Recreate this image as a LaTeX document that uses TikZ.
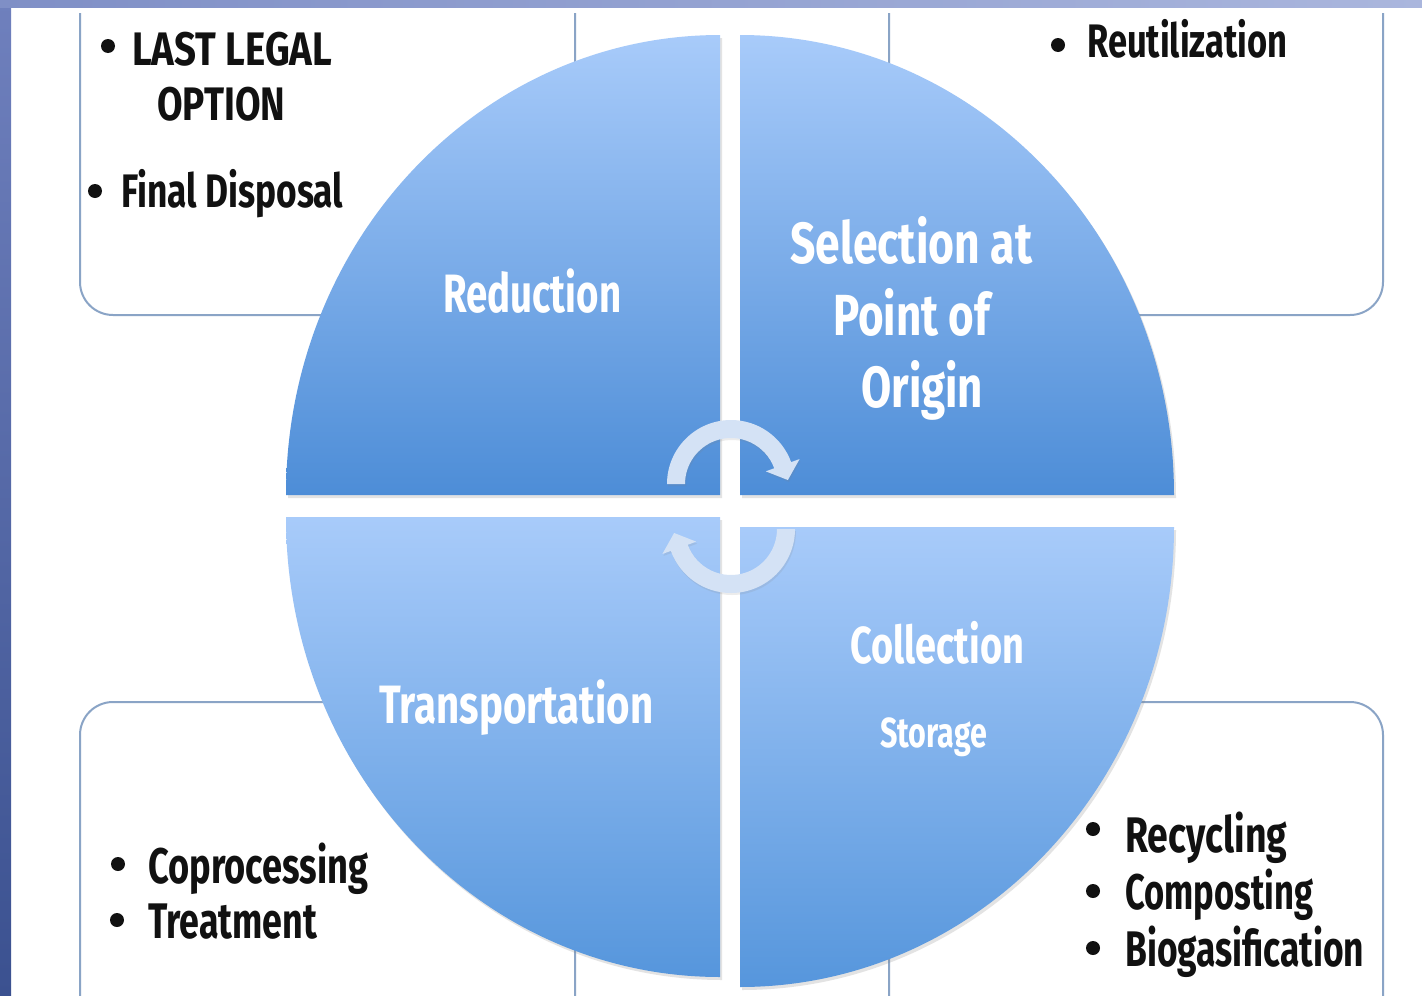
\documentclass[tikz,border=0pt]{standalone}
\usepackage{fontspec}
\usepackage{graphicx}
\usetikzlibrary{shadows}
\newfontfamily\agency{Fira Sans}
\definecolor{lstripTop}{HTML}{6F80BD}
\definecolor{lstripBot}{HTML}{3B5190}
\definecolor{tstripL}{HTML}{7F8FC6}
\definecolor{tstripR}{HTML}{AAB6DD}
\definecolor{boxc}{HTML}{8AA4C6}
\definecolor{arrowc}{HTML}{D4E2F5}
\definecolor{secTop}{HTML}{A8CBFA}
\definecolor{secBot}{HTML}{4D8DD7}
\definecolor{secBotB}{HTML}{5696DC}
\definecolor{ink}{HTML}{111111}
\newsavebox\fitbox
% #1 font size, #2 target width, #3 text
\newcommand\fitw[3]{\sbox\fitbox{\fontsize{#1}{#1}\selectfont #3}%
  \pgfmathsetmacro\fitratio{#2/\the\wd\fitbox}%
  \scalebox{\fitratio}[1]{\usebox\fitbox}}
\tikzset{
  blk/.style={font=\agency\bfseries, text=ink, inner sep=0pt, anchor=base west},
  wht/.style={font=\agency\bfseries, text=white, inner sep=0pt, anchor=base west},
  sectorA/.style={top color=secTop, bottom color=secBot, draw=none,
    drop shadow={opacity=0.22, shadow xshift=2pt, shadow yshift=-3pt}},
  sectorB/.style={top color=secTop, bottom color=secBotB, draw=none,
    drop shadow={opacity=0.22, shadow xshift=2pt, shadow yshift=-3pt}},
  boxline/.style={draw=boxc, line width=2pt, rounded corners=33pt},
  cyc/.style={fill=arrowc, draw=none, drop shadow={opacity=0.15, shadow xshift=1pt, shadow yshift=-2pt}},
  dot/.style={circle, fill=ink, inner sep=0pt, minimum size=14pt}
}
\begin{document}
\begin{tikzpicture}[x=1pt,y=-1pt]
\useasboundingbox (0,0) rectangle (1422,996);
\fill[white] (0,0) rectangle (1422,996);
% side and top strips
\shade[top color=lstripTop, bottom color=lstripBot] (0,0) rectangle (11,996);
\shade[left color=tstripL, right color=tstripR] (0,0) rectangle (1422,7);
% corner boxes (open towards the picture edge)
\draw[boxline] (80,13) -- (80,315) -- (575,315) -- (575,13);
\draw[boxline] (889,13) -- (889,315) -- (1383,315) -- (1383,13);
\draw[boxline] (80,996) -- (80,702) -- (575,702) -- (575,996);
\draw[boxline] (889,996) -- (889,702) -- (1383,702) -- (1383,996);
% pie sectors
\path[sectorA] (720,495) -- (286,495) arc[start angle=180, end angle=270, x radius=434, y radius=460] -- cycle;
\path[sectorA] (740,495) -- (740,35) arc[start angle=270, end angle=360, x radius=434, y radius=460] -- cycle;
\path[sectorB] (720,517) -- (286,517) arc[start angle=180, end angle=90, x radius=434, y radius=460] -- cycle;
\path[sectorB] (740,527) -- (1174,527) arc[start angle=0, end angle=90, x radius=434, y radius=460] -- cycle;
% cycle arrows
\begin{scope}[shift={(731,484)}]
\path[cyc] (180:64) arc[start angle=180, end angle=340, radius=64] -- (340:73) -- (-4:57) -- (340:37) -- (340:46) arc[start angle=340, end angle=180, radius=46] -- cycle;
\end{scope}
\begin{scope}[shift={(731,529)}]
\path[cyc] (0:64) arc[start angle=0, end angle=160, radius=64] -- (160:73) -- (176:57) -- (160:37) -- (160:46) arc[start angle=160, end angle=0, radius=46] -- cycle;
\end{scope}
% sector labels
\node[wht] (red) at (443,312) {\fitw{54pt}{178}{Reduction}};
\node[wht] (sel1) at (790,263) {\fitw{58pt}{242}{Selection at}};
\node[wht] (sel2) at (833,335) {\fitw{58pt}{157}{Point of}};
\node[wht] (sel3) at (861,407) {\fitw{58pt}{122}{Origin}};
\node[wht] (tra) at (379,723) {\fitw{54pt}{274}{Transportation}};
\node[wht] (col) at (850,663) {\fitw{52pt}{174}{Collection}};
\node[wht] (sto) at (880,747) {\fitw{42pt}{107}{Storage}};
% bullets and list texts
\node[dot] (d1) at (108,46) {};
\node[blk] (t1a) at (132,65) {\fitw{47pt}{200}{LAST LEGAL}};
\node[blk] (t1b) at (157,120) {\fitw{47pt}{128}{OPTION}};
\node[dot] (d2) at (95,191) {};
\node[blk] (t2) at (121,207) {\fitw{47pt}{222}{Final Disposal}};
\node[dot] (d3) at (1058,45) {};
\node[blk] (t3) at (1087,57) {\fitw{47pt}{200}{Reutilization}};
\node[dot] (d4) at (118,864) {};
\node[blk] (t4) at (148,883) {\fitw{50pt}{220}{Coprocessing}};
\node[dot] (d5) at (117,920) {};
\node[blk] (t5) at (148,938) {\fitw{50pt}{169}{Treatment}};
\node[dot] (d6) at (1093,829) {};
\node[blk] (t6) at (1125,852) {\fitw{50pt}{162}{Recycling}};
\node[dot] (d7) at (1093,891) {};
\node[blk] (t7) at (1125,909) {\fitw{50pt}{188}{Composting}};
\node[dot] (d8) at (1093,948) {};
\node[blk] (t8) at (1125,966) {\fitw{50pt}{239}{Biogasification}};
\end{tikzpicture}
\end{document}
